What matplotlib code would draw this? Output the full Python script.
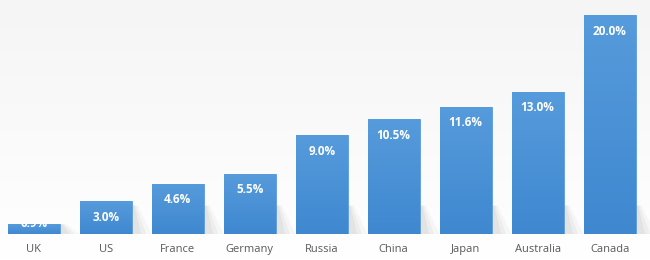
import matplotlib
matplotlib.use("Agg")
import matplotlib.pyplot as plt
from matplotlib.patches import Polygon
import numpy as np

countries = ["UK", "US", "France", "Germany", "Russia", "China", "Japan", "Australia", "Canada"]
values = [0.9, 3.0, 4.6, 5.5, 9.0, 10.5, 11.6, 13.0, 20.0]
labels = ["0.9%", "3.0%", "4.6%", "5.5%", "9.0%", "10.5%", "11.6%", "13.0%", "20.0%"]

fig = plt.figure(figsize=(6.5, 2.6), dpi=100)
# background gradient
bg = fig.add_axes([0, 0, 1, 1], zorder=-10)
grad = np.linspace(0, 1, 256).reshape(-1, 1)
bg.imshow(grad, aspect="auto", cmap=matplotlib.colors.LinearSegmentedColormap.from_list(
    "bgc", ["#f5f5f5", "#fafafa", "#ffffff"]), extent=[0, 1, 0, 1], origin="upper")
bg.axis("off")

ax = fig.add_axes([0, 0.1, 1, 0.9])
ax.patch.set_alpha(0)
x = np.arange(len(countries))
bars = ax.bar(x, values, width=0.72, color="#4b90d6", edgecolor="#5a9cdd", linewidth=0.6, zorder=3)

# soft shadow at lower right of each bar
for b in bars:
    xr = b.get_x() + b.get_width()
    for k, a in zip([0.28, 0.2, 0.13], [0.05, 0.07, 0.09]):
        sh = min(2.6, b.get_height())
        poly = Polygon([(xr, 0), (xr + k, 0), (xr + k * 0.3, sh), (xr, sh)],
                       closed=True, facecolor="#808080", edgecolor="none", alpha=a, zorder=2)
        ax.add_patch(poly)

# subtle vertical gradient on bars
cmap = matplotlib.colors.LinearSegmentedColormap.from_list("barc", ["#569bdb", "#3f88d0"])
for b in bars:
    x0, y0 = b.get_x(), b.get_y()
    w, h = b.get_width(), b.get_height()
    im = ax.imshow(np.linspace(0, 1, 100).reshape(-1, 1), cmap=cmap, aspect="auto",
                   extent=[x0, x0 + w, y0, y0 + h], origin="upper", zorder=3.5)
    im.set_clip_path(b)

ax.set_xlim(-0.47, 8.56)
ax.set_ylim(0, 21.37)

px_per_unit = 234 / 21.37
for xi, v, lab, b in zip(x, values, labels, bars):
    hpx = v * px_per_unit
    off = 16 if hpx > 30 else -1
    t = ax.annotate(lab, (xi, v), xytext=(0, -off * 0.72), textcoords="offset points",
                    ha="center", va="center", color="white", fontsize=8.5,
                    fontweight="bold", family="Open Sans", zorder=5)
    t.set_clip_path(b)

ax.set_xticks(x)
ax.set_xticklabels(countries, fontsize=8, color="#595959", family="Open Sans")
ax.tick_params(axis="x", length=0, pad=7)
ax.set_yticks([])
for s in ax.spines.values():
    s.set_visible(False)

fig.savefig("out.png", dpi=100)
